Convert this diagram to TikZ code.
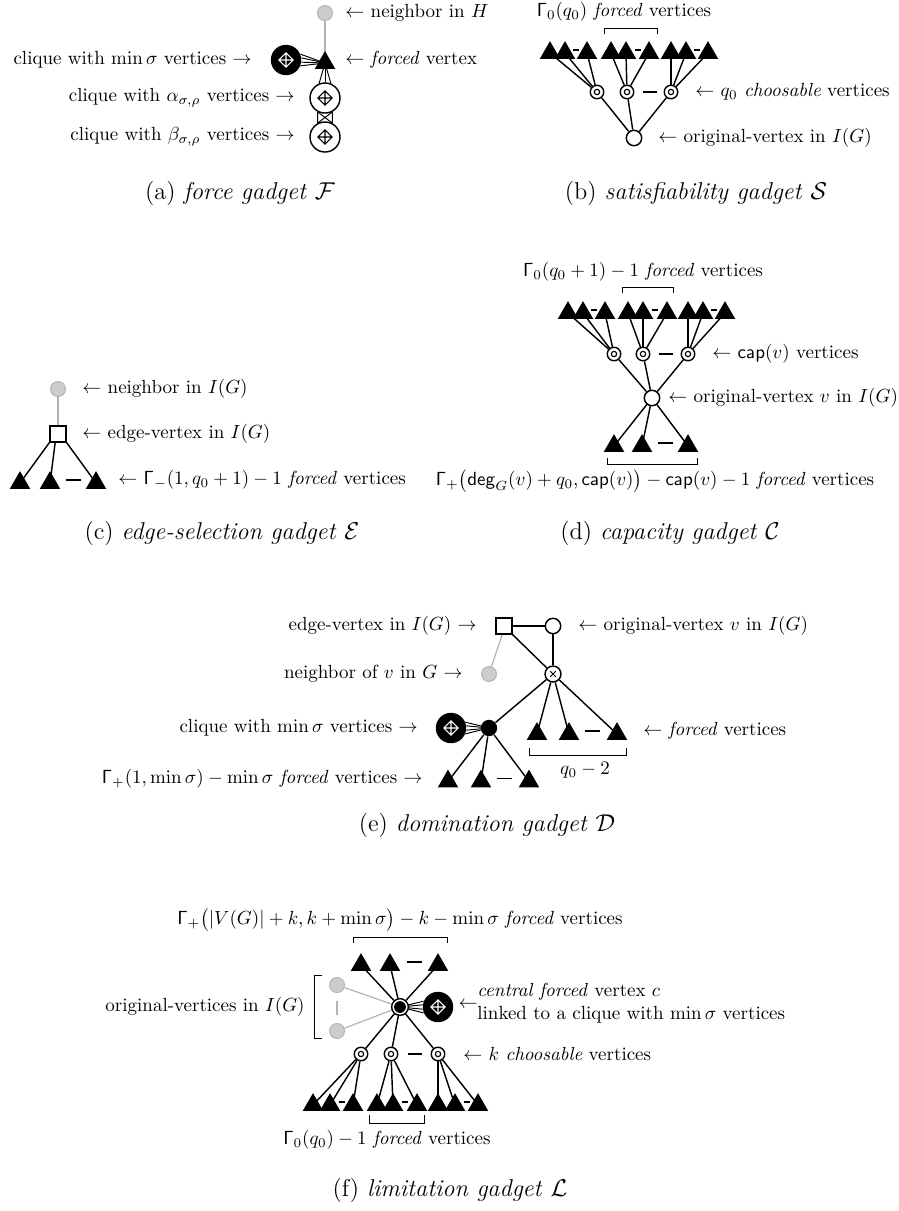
\RequirePackage{fix-cm}
\documentclass[tikz,border=0pt]{standalone}
\usetikzlibrary{shapes.geometric,backgrounds}
\tikzset{
  gv/.style={circle, fill=black!20, draw=black!30, line width=0.5pt, minimum size=7.9pt, inner sep=0pt},
  fv/.style={regular polygon, regular polygon sides=3, fill=black, minimum size=12.5pt, inner sep=0pt},
  ov/.style={circle, draw, fill=white, line width=0.75pt, minimum size=8.1pt, inner sep=0pt},
  cv/.style={circle, draw, fill=white, line width=0.75pt, minimum size=7.1pt, inner sep=0pt,
    path picture={\draw[black, line width=0.6pt] (path picture bounding box.center) circle (1.4pt);}},
  ev/.style={rectangle, draw, fill=white, line width=0.75pt, minimum size=8.4pt, inner sep=0pt},
  xv/.style={circle, draw, fill=white, line width=0.75pt, minimum size=8.4pt, inner sep=0pt,
    path picture={\draw[black, line width=0.5pt, shift={(path picture bounding box.center)}] (-1.5pt,-1.5pt)--(1.5pt,1.5pt) (-1.5pt,1.5pt)--(1.5pt,-1.5pt);}},
  bv/.style={circle, fill=black, minimum size=8.6pt, inner sep=0pt},
  zv/.style={circle, draw, fill=white, line width=0.75pt, minimum size=8.8pt, inner sep=0pt,
    path picture={\fill[black] (path picture bounding box.center) circle (3.1pt);}},
  clqsym/.style={path picture={\draw[line width=0.55pt, draw=#1, shift={(path picture bounding box.center)}]
    (0pt,3.8pt)--(3.8pt,0pt)--(0pt,-3.8pt)--(-3.8pt,0pt)--cycle (0pt,3.8pt)--(0pt,-3.8pt) (-3.8pt,0pt)--(3.8pt,0pt);}},
  wclq/.style={circle, draw, fill=white, line width=0.75pt, minimum size=15.8pt, inner sep=0pt, clqsym=black},
  bclq/.style={circle, fill=black, minimum size=16pt, inner sep=0pt, clqsym=white},
  ln/.style={line width=0.75pt},
  bnd/.style={line width=0.5pt},
  gedge/.style={draw=black!30, line width=0.6pt},
  brk/.style={line width=0.5pt},
  dsh/.style={line width=0.6pt},
  sdsh/.style={line width=0.55pt},
  lab/.style={inner sep=0pt},
  capt/.style={inner sep=0pt, font=\fontsize{12.8}{15}\selectfont},
}
\begin{document}
\begin{tikzpicture}[x=0.5263pt,y=-0.5263pt]
\useasboundingbox (0,0) rectangle (899,1211);

% ---------------- (a) force gadget
\node[gv] (aH) at (325,13) {};
\node[fv] (aF) at (325,63) {};
\node[bclq] (aC) at (286,60) {};
\node[wclq] (aA) at (325,98) {};
\node[wclq] (aB) at (325,137) {};
\node[lab, anchor=west] (laH) at (345,13) {$\leftarrow$ neighbor in $H$};
\node[lab, anchor=east] (laC) at (252,60) {clique with $\min\sigma$ vertices $\rightarrow$};
\node[lab, anchor=west] (laF) at (345,60) {$\leftarrow$ \emph{forced} vertex};
\node[lab, anchor=east] (laA) at (295,98) {clique with $\alpha_{\sigma,\rho}$ vertices $\rightarrow$};
\node[lab, anchor=east] (laB) at (295,137) {clique with $\beta_{\sigma,\rho}$ vertices $\rightarrow$};
\node[capt] (ca) at (240,193) {(a) \emph{force gadget} $\mathcal{F}$};

% ---------------- (b) satisfiability gadget
\foreach \n/\x in {1/550,2/565,3/587,4/611,5/626,6/649,7/671,8/686,9/708}
  \node[fv] (bT\n) at (\x,53) {};
\node[cv] (bC1) at (597,92) {};
\node[cv] (bC2) at (627,92) {};
\node[cv] (bC3) at (671,92) {};
\node[ov] (bO) at (634,138) {};
\draw[sdsh] (573,50)--(579,50) (635,50)--(641,50) (694,50)--(700,50);
\draw[dsh] (643,92)--(657,92);
\draw[brk] (604,34)--(604,28)--(657,28)--(657,34);
\node[lab] (lbT) at (624,12) {$\mathsf{\Gamma}_0(q_0)$ \emph{forced} vertices};
\node[lab, anchor=west] (lbC) at (695,92) {$\leftarrow$ $q_0$ \emph{choosable} vertices};
\node[lab, anchor=west] (lbO) at (658,138) {$\leftarrow$ original-vertex in $I(G)$};
\node[capt] (cb) at (696,193) {(b) \emph{satisfiability gadget} $\mathcal{S}$};

% ---------------- (c) edge-selection gadget
\node[gv] (cG) at (58,389) {};
\node[ev] (cE) at (58,434) {};
\node[fv] (cT1) at (20,483) {};
\node[fv] (cT2) at (50,483) {};
\node[fv] (cT3) at (96,483) {};
\draw[dsh] (66,480)--(81,480);
\node[lab, anchor=west] (lcG) at (82,389) {$\leftarrow$ neighbor in $I(G)$};
\node[lab, anchor=west] (lcE) at (82,434) {$\leftarrow$ edge-vertex in $I(G)$};
\node[lab, anchor=west] (lcT) at (118,480) {$\leftarrow$ $\mathsf{\Gamma}_-(1,q_0+1)-1$ \emph{forced} vertices};
\node[capt] (cc) at (222,533) {(c) \emph{edge-selection gadget} $\mathcal{E}$};

% ---------------- (d) capacity gadget
\foreach \n/\x in {1/568,2/583,3/605,4/628,5/643,6/667,7/688,8/703,9/725}
  \node[fv] (dT\n) at (\x,313) {};
\node[cv] (dC1) at (614,354) {};
\node[cv] (dC2) at (643,354) {};
\node[cv] (dC3) at (688,354) {};
\node[ov] (dV) at (652,398) {};
\node[fv] (dB1) at (614,446) {};
\node[fv] (dB2) at (642,446) {};
\node[fv] (dB3) at (688,446) {};
\draw[sdsh] (591,310)--(597,310) (652,310)--(658,310) (711,310)--(717,310);
\draw[dsh] (659,354)--(673,354);
\draw[dsh] (658,443)--(673,443);
\draw[brk] (622,293)--(622,287)--(673,287)--(673,293);
\draw[brk] (607,458)--(607,464)--(697,464)--(697,458);
\node[lab] (ldT) at (643,272) {$\mathsf{\Gamma}_0(q_0+1)-1$ \emph{forced} vertices};
\node[lab] (ldB) at (655,481) {$\mathsf{\Gamma}_+\bigl(\mathsf{deg}_G(v)+q_0,\mathsf{cap}(v)\bigr)-\mathsf{cap}(v)-1$ \emph{forced} vertices};
\node[lab, anchor=west] (ldC) at (712,354) {$\leftarrow$ $\mathsf{cap}(v)$ vertices};
\node[lab, anchor=west] (ldV) at (668,398) {$\leftarrow$ original-vertex $v$ in $I(G)$};
\node[capt] (cd) at (670,533) {(d) \emph{capacity gadget} $\mathcal{C}$};

% ---------------- (e) domination gadget
\node[ev] (eE) at (504,626) {};
\node[ov] (eO) at (553,626) {};
\node[gv] (eG) at (489,674) {};
\node[xv] (eX) at (553,674) {};
\node[bclq] (eC) at (451,728) {};
\node[bv] (eB) at (489,728) {};
\node[fv] (eT1) at (537,734) {};
\node[fv] (eT2) at (569,734) {};
\node[fv] (eT3) at (617,734) {};
\node[fv] (eS1) at (448,781.5) {};
\node[fv] (eS2) at (481,781.5) {};
\node[fv] (eS3) at (529,781.5) {};
\draw[dsh] (585,731)--(600,731);
\draw[dsh] (497,778.5)--(512,778.5);
\draw[brk] (529,748)--(529,755)--(626,755)--(626,748);
\node[lab] (leq) at (585,770) {$q_0-2$};
\node[lab, anchor=east] (leE) at (477,626) {edge-vertex in $I(G)$ $\rightarrow$};
\node[lab, anchor=west] (leO) at (578,626) {$\leftarrow$ original-vertex $v$ in $I(G)$};
\node[lab, anchor=east] (leG) at (463,674) {neighbor of $v$ in $G$ $\rightarrow$};
\node[lab, anchor=east] (leC) at (418,728) {clique with $\min\sigma$ vertices $\rightarrow$};
\node[lab, anchor=west] (leT) at (643,731) {$\leftarrow$ \emph{forced} vertices};
\node[lab, anchor=east] (leS) at (423,779) {$\mathsf{\Gamma}_+(1,\min\sigma)-\min\sigma$ \emph{forced} vertices $\rightarrow$};
\node[capt] (ce) at (487,825) {(e) \emph{domination gadget} $\mathcal{D}$};

% ---------------- (f) limitation gadget
\node[fv] (fT1) at (361,965) {};
\node[fv] (fT2) at (390,965) {};
\node[fv] (fT3) at (438,965) {};
\node[zv] (fZ) at (400,1007) {};
\node[bclq] (fC) at (438,1007) {};
\node[gv] (fG1) at (337,985) {};
\node[gv] (fG2) at (337,1031) {};
\node[cv] (fK1) at (361,1054) {};
\node[cv] (fK2) at (391,1054) {};
\node[cv] (fK3) at (438,1054) {};
\foreach \n/\x in {1/313,2/330,3/353,4/377,5/393,6/417,7/438,8/455,9/478}
  \node[fv] (fB\n) at (\x,1105) {};
\draw[dsh] (407,962)--(422,962);
\draw[dsh] (408,1054)--(422,1054);
\draw[sdsh] (338.5,1102)--(344.5,1102) (402,1102)--(408,1102) (463.5,1102)--(469.5,1102);
\draw[gedge] (337,1001)--(337,1015);
\draw[brk] (353,943)--(353,937)--(447,937)--(447,943);
\draw[brk] (322,975)--(314,975)--(314,1038)--(322,1038);
\draw[brk] (369,1115)--(369,1123)--(424,1123)--(424,1115);
\node[lab] (lfT) at (400,920) {$\mathsf{\Gamma}_+\bigl(|V(G)|+k,k+\min\sigma\bigr)-k-\min\sigma$ \emph{forced} vertices};
\node[lab, anchor=east] (lfG) at (305,1007) {original-vertices in $I(G)$};
\node[lab] (lfA) at (468,1005) {$\leftarrow$};
\node[lab, anchor=west, align=left] (lfC) at (477,1003) {\emph{central forced} vertex $c$\\linked to a clique with $\min\sigma$ vertices};
\node[lab, anchor=west] (lfK) at (463,1054) {$\leftarrow$ $k$ \emph{choosable} vertices};
\node[lab] (lfB) at (387,1140) {$\mathsf{\Gamma}_0(q_0)-1$ \emph{forced} vertices};
\node[capt] (cf) at (450,1190) {(f) \emph{limitation gadget} $\mathcal{L}$};

% ---------------- edges (behind the vertices)
\begin{scope}[on background layer]
\fill[white] (0,0) rectangle (899,1211);
% (a)
\draw[gedge] (aH) -- (aF.center);
\foreach \a in {22,8,-8,-22} \draw[bnd] (aC.\a) -- (aF.center);
\foreach \a in {112,90,68} \draw[bnd] (aA.\a) -- (aF.center);
\draw[bnd] (aA.242) -- (aB.118) (aA.298) -- (aB.62) (aA.242) -- (aB.62) (aA.298) -- (aB.118);
% (b)
\foreach \i in {1,2,3} \draw[ln] (bO) -- (bC\i);
\foreach \c/\t in {1/1,1/2,1/3,2/4,2/5,2/6,3/7,3/8,3/9} \draw[ln] (bC\c) -- (bT\t.center);
% (c)
\draw[gedge] (cG) -- (cE);
\draw[ln] (cE.south west) -- (cT1.center);
\draw[ln] ([xshift=-1.5pt]cE.south) -- (cT2.center);
\draw[ln] (cE.south east) -- (cT3.center);
% (d)
\foreach \i in {1,2,3} \draw[ln] (dV) -- (dC\i);
\foreach \i in {1,2,3} \draw[ln] (dV) -- (dB\i.center);
\foreach \c/\t in {1/1,1/2,1/3,2/4,2/5,2/6,3/7,3/8,3/9} \draw[ln] (dC\c) -- (dT\t.center);
% (e)
\draw[ln] (eE) -- (eO);
\draw[gedge] ([xshift=-1pt]eE.south) -- (eG);
\draw[ln] (eE.south east) -- (eX);
\draw[ln] (eO) -- (eX);
\draw[ln] (eX) -- (eB);
\foreach \i in {1,2,3} \draw[ln] (eX) -- (eT\i.center);
\foreach \a in {22,8,-8,-22} \draw[bnd] (eC.\a) -- (eB.center);
\foreach \i in {1,2,3} \draw[ln] (eB) -- (eS\i.center);
% (f)
\foreach \i in {1,2,3} \draw[ln] (fZ) -- (fT\i.center);
\draw[gedge] (fZ) -- (fG1);
\draw[gedge] (fZ) -- (fG2);
\foreach \a in {158,172,188,202} \draw[bnd] (fC.\a) -- (fZ.center);
\foreach \i in {1,2,3} \draw[ln] (fZ) -- (fK\i);
\foreach \c/\t in {1/1,1/2,1/3,2/4,2/5,2/6,3/7,3/8,3/9} \draw[ln] (fK\c) -- (fB\t.center);
\end{scope}
\end{tikzpicture}
\end{document}
